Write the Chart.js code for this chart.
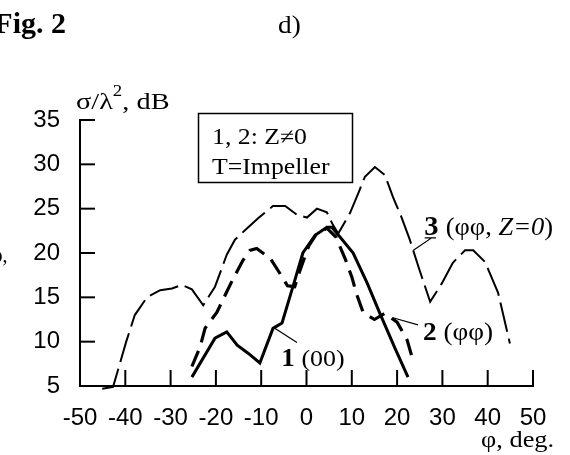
<!DOCTYPE html>
<html lang="en">
<head>
<meta charset="UTF-8">
<title>Fig. 2 d)</title>
<script src="https://cdn.jsdelivr.net/npm/chart.js"></script>
<style>
  body { margin: 0; background: #fff; }
  canvas { display: block; }
</style>
</head>
<body>
<canvas id="fig" width="570" height="455"></canvas>
<script>
  // tick values
  const xTicks = [-50, -40, -30, -20, -10, 0, 10, 20, 30, 40, 50];
  const yTicks = [5, 10, 15, 20, 25, 30, 35];

  // curve 1 (00) - solid
  const phi1 = [-25.3, -20.2, -17.6, -15.3, -12.9, -10.3, -7.4, -5.4, -3, -0.8, 1.9, 4.5, 5.6, 7.4, 10.3, 13.4, 16.2, 19.5, 22.4];
  const sigma1 = [6, 10.4, 11.1, 9.6, 8.7, 7.6, 11.5, 12.1, 16.2, 20, 22, 22.9, 22.9, 21.8, 20, 16.6, 13.2, 9.3, 6];

  // curve 2 (phi phi) - thick dashes
  const phi2 = [-25.3, -23.5, -22.4, -19.8, -18, -16.2, -14, -12.5, -11, -8, -6, -4.2, -2.6, -1.4, 0.5, 2, 4.5, 6.5, 8.5, 10, 11.1, 12.5, 15, 17.3, 20, 22.2, 23.5];
  const sigma2 = [7.2, 9.4, 11.5, 13.3, 15.2, 17.1, 19.2, 20.3, 20.5, 19.4, 17.8, 16.3, 16.2, 18.1, 20.8, 22, 22.8, 21.8, 19.4, 17.3, 15.3, 13.3, 12.5, 13.2, 12.2, 10.2, 7.9];

  // curve 3 (phi phi, Z=0) - thin long dashes
  const phi3 = [-45.1, -42.7, -39.8, -37.9, -35.2, -32.3, -29.7, -27.5, -25.3, -22.8, -20.2, -17.6, -15.8, -13.1, -10.5, -7.4, -4.7, -2.1, 0.1, 2.3, 4.5, 5.8, 7, 9.6, 11.4, 12.9, 15.1, 17.3, 19.1, 21, 22.8, 25, 27.3, 29.9, 32.3, 35, 36.8, 39.4, 42.3, 44.9];
  const sigma3 = [4.7, 4.9, 10, 13, 15, 15.8, 16, 16.4, 15.9, 14.1, 16.2, 19.8, 21.5, 22.8, 24, 25.3, 25.3, 24.3, 24, 25, 24.6, 23.2, 22.2, 24.5, 26.7, 28.6, 29.7, 28.8, 26.3, 24, 21.5, 18, 14.5, 16.6, 18.9, 20.3, 20.3, 19, 15.5, 9.8];

  const toPoints = (xs, ys) => xs.map((v, i) => ({ x: v, y: ys[i] }));

  const SERIF = '"Liberation Serif", "DejaVu Serif", serif';

  // draws a row of text pieces with different fonts, left to right,
  // squeezed/stretched horizontally by sx (the scan has wide lettering)
  function drawRuns(ctx, x, y, runs, sx = 1) {
    ctx.save();
    ctx.translate(x, y);
    ctx.scale(sx, 1);
    let cx = 0;
    runs.forEach(r => {
      ctx.font = r.font;
      ctx.fillText(r.t, cx, r.dy || 0);
      cx += ctx.measureText(r.t).width;
    });
    ctx.restore();
  }

  const innerTicks = {
    id: 'innerTicks',
    afterDatasetsDraw(chart) {
      const { ctx, scales: { x, y } } = chart;
      ctx.save();
      ctx.strokeStyle = '#000';
      ctx.lineWidth = 2;
      xTicks.forEach(v => {
        if (v === xTicks[0]) return;
        const px = x.getPixelForValue(v);
        ctx.beginPath();
        ctx.moveTo(px, y.bottom);
        ctx.lineTo(px, y.bottom - 16);
        ctx.stroke();
      });
      yTicks.forEach(v => {
        if (v === yTicks[0]) return;
        const py = y.getPixelForValue(v);
        ctx.beginPath();
        ctx.moveTo(x.left, py);
        ctx.lineTo(x.left + 15, py);
        ctx.stroke();
      });
      ctx.restore();
    }
  };

  const annotations = {
    id: 'annotations',
    afterDraw(chart) {
      const { ctx, scales: { x, y } } = chart;
      const px = v => x.getPixelForValue(v);
      const py = v => y.getPixelForValue(v);
      ctx.save();
      ctx.fillStyle = '#000';
      ctx.strokeStyle = '#000';
      ctx.textBaseline = 'alphabetic';

      // header
      ctx.font = 'bold 30px ' + SERIF;
      ctx.textAlign = 'right';
      ctx.fillText('Fig. 2', 66, 33);
      ctx.textAlign = 'left';
      drawRuns(ctx, 278, 33, [{ t: 'd)', font: '26px ' + SERIF }], 1.05);

      // cut-off fragment at the left edge
      drawRuns(ctx, -9, 262, [{ t: 'φ,', font: '20px ' + SERIF }]);

      // axis titles
      drawRuns(ctx, 76, 109, [
        { t: 'σ/λ', font: '24px ' + SERIF },
        { t: '2', font: '16px ' + SERIF, dy: -13 },
        { t: ', dB', font: '24px ' + SERIF }
      ], 1.18);
      drawRuns(ctx, 481, 447, [{ t: 'φ, deg.', font: '24px ' + SERIF }], 1.1);

      // info box
      ctx.lineWidth = 1.5;
      ctx.strokeRect(198.5, 113.5, 154, 69);
      drawRuns(ctx, 212, 144, [{ t: '1, 2: Z≠0', font: '23px ' + SERIF }], 1.12);
      drawRuns(ctx, 212, 174, [{ t: 'T=Impeller', font: '23px ' + SERIF }], 1.12);

      // curve labels with leaders (anchored in data units)
      ctx.lineWidth = 1.2;
      ctx.beginPath();
      ctx.moveTo(px(-7), py(11.5));
      ctx.lineTo(px(-2.1), py(9.9));
      ctx.moveTo(px(19.1), py(12.7));
      ctx.lineTo(px(24.6), py(11.9));
      ctx.moveTo(px(23.6), py(20.3));
      ctx.lineTo(px(27.6), py(21.7));
      ctx.lineTo(px(26.1), py(21.7));
      ctx.lineTo(px(28.6), py(21.7));
      ctx.stroke();

      drawRuns(ctx, px(-5.6), py(7.3), [
        { t: '1 ', font: 'bold 25px ' + SERIF },
        { t: '(00)', font: '24px ' + SERIF }
      ], 1.08);
      drawRuns(ctx, px(25.7), py(10.2), [
        { t: '2 ', font: 'bold 26px ' + SERIF },
        { t: '(φφ)', font: '26px ' + SERIF }
      ], 1.05);
      drawRuns(ctx, px(26.0), py(22.0), [
        { t: '3 ', font: 'bold 28px ' + SERIF },
        { t: '(φφ, ', font: '26px ' + SERIF },
        { t: 'Z=0', font: 'italic 26px ' + SERIF },
        { t: ')', font: '26px ' + SERIF }
      ], 1.02);
      ctx.restore();
    }
  };

  const tickFont = { family: '"Liberation Sans", Arial, sans-serif', size: 24 };

  new Chart(document.getElementById('fig'), {
    type: 'scatter',
    data: {
      datasets: [
        {
          label: '3 (φφ, Z=0)',
          data: toPoints(phi3, sigma3),
          showLine: true,
          borderColor: '#000',
          borderWidth: 2,
          borderDash: [30, 7],
          pointRadius: 0,
          clip: false
        },
        {
          label: '2 (φφ)',
          data: toPoints(phi2, sigma2),
          showLine: true,
          borderColor: '#000',
          borderWidth: 3.2,
          borderDash: [17, 9],
          pointRadius: 0,
          clip: false
        },
        {
          label: '1 (00)',
          data: toPoints(phi1, sigma1),
          showLine: true,
          borderColor: '#000',
          borderWidth: 3,
          pointRadius: 0,
          clip: false
        }
      ]
    },
    options: {
      responsive: false,
      animation: false,
      layout: { padding: { left: 20, right: 37, top: 120, bottom: 24 } },
      plugins: { legend: { display: false }, tooltip: { enabled: false } },
      scales: {
        x: {
          type: 'linear',
          min: -50,
          max: 50,
          afterBuildTicks: s => { s.ticks = xTicks.map(v => ({ value: v })); },
          afterFit: s => { s.height = 45; },
          grid: { display: false, drawTicks: false },
          border: { color: '#000', width: 2 },
          ticks: { color: '#000', font: tickFont, padding: 18, maxRotation: 0, autoSkip: false }
        },
        y: {
          type: 'linear',
          min: 5,
          max: 35,
          afterBuildTicks: s => { s.ticks = yTicks.map(v => ({ value: v })); },
          afterFit: s => { s.width = 60; },
          grid: { display: false, drawTicks: false },
          border: { color: '#000', width: 2 },
          ticks: { color: '#000', font: tickFont, padding: 20 }
        }
      }
    },
    plugins: [innerTicks, annotations]
  });
</script>
</body>
</html>
